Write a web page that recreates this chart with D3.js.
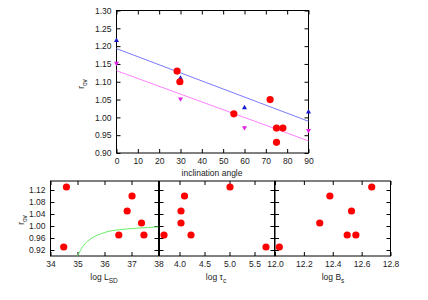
<!DOCTYPE html>
<html>
<head>
<meta charset="utf-8">
<script src="https://cdn.jsdelivr.net/npm/d3@7"></script>
<style>
  body { margin: 0; background: #fff; }
  text { font-family: "Liberation Sans", Arial, sans-serif; fill: #222; }
  .axis text { font-size: 8.5px; }
  .axis line { stroke: #000; }
  .axis path { display: none; }
</style>
</head>
<body>
<div id="chart"></div>
<script>
// r_ov of each star, with its other quantities in the same order
var rov   = [0.93, 1.13, 1.10, 1.05, 1.01, 0.97, 0.97];
var incl  = [75, 28.4, 29.7, 72, 55, 75, 78];
var logL  = [34.49, 34.59, 37.02, 36.84, 37.37, 36.53, 37.46];
var logTc = [5.73, 5.01, 4.10, 4.03, 4.03, 4.23, 3.69];
var logBs = [12.03, 12.67, 12.38, 12.53, 12.31, 12.50, 12.56];

// model points (triangles) against inclination angle
var modelAngle = [0, 30, 60, 90];
var modelUp    = [1.216, 1.11, 1.027, 1.015];
var modelDown  = [1.152, 1.052, 0.971, 0.963];

// straight fits, end points
var fitAngle = [0, 90];
var fitUp    = [1.193, 0.989];
var fitDown  = [1.131, 0.934];

// green curve in the L_SD panel
var curveL   = [35.0, 35.2, 35.5, 35.9, 36.2, 36.6, 37.1, 37.6, 38.0];
var curveRov = [0.900, 0.932, 0.958, 0.975, 0.983, 0.988, 0.992, 0.995, 0.997];

var width = 428, height = 300;

var svg = d3.select("#chart").append("svg")
    .attr("width", width)
    .attr("height", height);

// framed panel with inward ticks on all four sides
function panel(box, xDom, yDom, xTicks, yTicks, xFmt, yFmt, showY) {
  var x = d3.scaleLinear().domain(xDom).range([box.left, box.right]);
  var y = d3.scaleLinear().domain(yDom).range([box.bottom, box.top]);

  svg.append("g").attr("class", "axis")
      .attr("transform", "translate(0," + box.bottom + ")")
      .call(d3.axisBottom(x).tickValues(xTicks).tickSize(-4).tickPadding(5).tickFormat(d3.format(xFmt)));
  svg.append("g").attr("class", "axis")
      .attr("transform", "translate(0," + box.top + ")")
      .call(d3.axisTop(x).tickValues(xTicks).tickSize(-4).tickFormat(""));
  svg.append("g").attr("class", "axis")
      .attr("transform", "translate(" + box.left + ",0)")
      .call(d3.axisLeft(y).tickValues(yTicks).tickSize(-4).tickPadding(5)
        .tickFormat(showY ? d3.format(yFmt) : ""));
  svg.append("g").attr("class", "axis")
      .attr("transform", "translate(" + box.right + ",0)")
      .call(d3.axisRight(y).tickValues(yTicks).tickSize(-4).tickFormat(""));

  svg.append("rect")
      .attr("x", box.left).attr("y", box.top)
      .attr("width", box.right - box.left).attr("height", box.bottom - box.top)
      .attr("fill", "none").attr("stroke", "#000").attr("stroke-width", 1);

  return {x: x, y: y};
}

function dots(p, xs) {
  svg.append("g").selectAll("circle")
      .data(xs)
    .enter().append("circle")
      .attr("cx", function(d) { return p.x(d); })
      .attr("cy", function(d, i) { return p.y(rov[i]); })
      .attr("r", 3.6)
      .attr("fill", "#ff0000");
}

function label(x, y, main, sub, rotate) {
  var t = svg.append("text")
      .attr("text-anchor", "middle")
      .attr("font-size", "8.5px")
      .attr("transform", "translate(" + x + "," + y + ")" + (rotate ? " rotate(-90)" : ""));
  t.append("tspan").text(main);
  if (sub) t.append("tspan").attr("dy", 2.5).attr("font-size", "6.5px").text(sub);
}

// top chart
var pTop = panel({left: 116.5, right: 308.5, top: 10.5, bottom: 153},
  [0, 90], [0.90, 1.30], d3.range(0, 91, 10), d3.range(0.90, 1.301, 0.05), "d", ".2f", true);

var line = d3.line()
    .x(function(d) { return pTop.x(d[0]); })
    .y(function(d) { return pTop.y(d[1]); });

svg.append("path")
    .datum(d3.zip(fitAngle, fitUp))
    .attr("d", line).attr("fill", "none").attr("stroke", "#7a7aff").attr("stroke-width", 1);
svg.append("path")
    .datum(d3.zip(fitAngle, fitDown))
    .attr("d", line).attr("fill", "none").attr("stroke", "#ff80ff").attr("stroke-width", 1);

var tri = d3.symbol().type(d3.symbolTriangle).size(11);
svg.append("g").selectAll("path")
    .data(modelAngle)
  .enter().append("path")
    .attr("d", tri)
    .attr("transform", function(d, i) { return "translate(" + pTop.x(d) + "," + pTop.y(modelUp[i]) + ")"; })
    .attr("fill", "#1a1acc");
svg.append("g").selectAll("path")
    .data(modelAngle)
  .enter().append("path")
    .attr("d", tri)
    .attr("transform", function(d, i) { return "translate(" + pTop.x(d) + "," + pTop.y(modelDown[i]) + ") rotate(180)"; })
    .attr("fill", "#e020e0");

dots(pTop, incl);

label(212, 176, "inclination angle");
label(84, 84, "r", "ov", true);

// bottom row: three panels sharing the r_ov axis
var yB = [0.90, 1.15];
var yT = [0.92, 0.96, 1.00, 1.04, 1.08, 1.12];

var p1 = panel({left: 50.5, right: 158.5, top: 181, bottom: 256},
  [34, 38], yB, [34, 35, 36, 37, 38], yT, "d", ".2f", true);
svg.append("clipPath").attr("id", "clip1")
  .append("rect").attr("x", 50.5).attr("y", 181).attr("width", 108).attr("height", 75);
svg.append("path")
    .datum(d3.zip(curveL, curveRov))
    .attr("clip-path", "url(#clip1)")
    .attr("d", d3.line().curve(d3.curveMonotoneX)
      .x(function(d) { return p1.x(d[0]); })
      .y(function(d) { return p1.y(d[1]); }))
    .attr("fill", "none").attr("stroke", "#66ee66").attr("stroke-width", 1);
dots(p1, logL);

var p2 = panel({left: 159.5, right: 274.5, top: 181, bottom: 256},
  [3.6, 5.9], yB, [4.0, 4.5, 5.0, 5.5], yT, ".1f", ".2f", false);
dots(p2, logTc);

var p3 = panel({left: 275, right: 390.5, top: 181, bottom: 256},
  [12.0, 12.8], yB, [12.0, 12.2, 12.4, 12.6, 12.8], yT, ".1f", ".2f", false);
dots(p3, logBs);

label(104, 280, "log L", "SD");
label(216, 280, "log \u03c4", "c");
label(333, 280, "log B", "s");
label(24, 220, "r", "ov", true);
</script>
</body>
</html>
